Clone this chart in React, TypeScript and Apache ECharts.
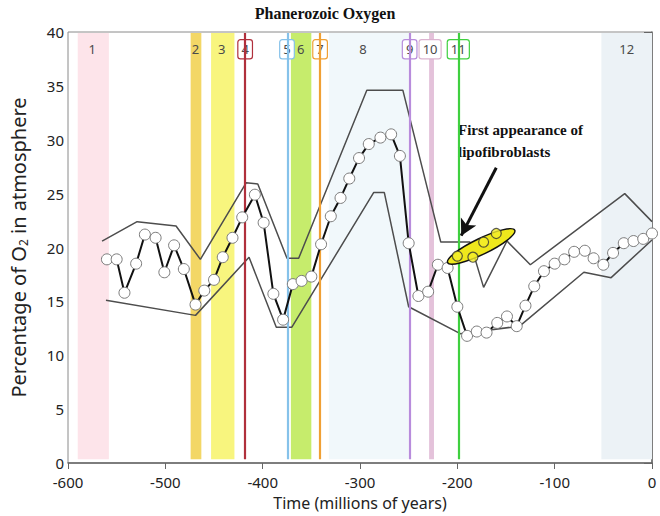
import React, { useEffect, useRef } from "react";
import * as echarts from "echarts";

// Main O2 curve (time in Ma, percent O2)
const timeMa = [-560,-550,-542,-530,-521,-510,-501,-491,-481,-469,-460,-450,-441,-431,-421,-408,-399,-389,-379,-369,-360,-350,-340,-330,-320,-311,-301,-291,-279,-268,-259,-250,-240,-230,-220,-210,-200,-190,-180,-170,-159,-149,-139,-130,-121,-111,-100,-90,-80,-69,-60,-50,-40,-29,-19,-9,0];
const oxygen = [18.9,18.9,15.8,18.5,21.2,20.9,17.7,20.2,18.0,14.7,16.0,17.0,19.1,20.9,22.8,24.9,22.3,15.7,13.3,16.6,16.9,17.3,20.3,22.9,24.6,26.4,28.3,29.6,30.2,30.5,28.5,20.4,15.5,15.9,18.4,18.1,14.5,11.8,12.2,12.1,13.0,13.6,12.7,14.6,16.4,17.8,18.5,18.9,19.6,19.7,19.0,18.4,19.5,20.4,20.6,20.8,21.3];

// Envelope lines
const upperX = [-565,-529,-489,-464,-417,-405,-375,-363,-293,-256,-217,-187,-173,-149,-125,-28,0];
const upperY = [20.6,22.4,22.0,18.9,26.0,25.9,19.0,19.0,34.6,34.6,20.5,20.5,16.3,20.6,18.4,25.0,22.4];
const lowerX = [-561,-469,-414,-386,-370,-286,-275,-250,-197,-136,-70,-42,0];
const lowerY = [15.1,13.7,19.1,12.6,12.6,25.1,25.1,14.5,12.0,12.7,17.7,17.2,20.7];

// Highlighted points (lipofibroblasts)
const hiX = [-200,-184,-173,-160];
const hiY = [19.2,19.1,20.5,21.3];
const ellipseEnds = [-210, 18.6, -141, 21.6];
const arrowFrom = [-160, 27.4];
const arrowTo = [-196, 21.1];

// Time bands / events
const bandStart = [-590,-474,-453,-371,-332,-229,-52];
const bandEnd = [-558,-463,-429,-350,-250,-224,0];
const bandColors = ["#fde4ea","#f3d766","#f8f57e","#c6ec6c","#f1f8fb","#e4c2da","#ecf2f6"];

const eventX = [-418,-374,-341,-249,-199];
const eventColors = ["#b0303c","#86c2ea","#f0a034","#b88cdc","#3fd03f"];

const labelTexts = ["1","2","3","4","5","6","7","8","9","10","11","12"];
const labelX = [-575,-469,-442,-418,-375,-361,-341,-297,-249,-228,-199,-26];
const labelBox = ["","","","#b0303c","#86c2ea","","#f0a034","","#b88cdc","#dcb4d0","#3fd03f",""];
const labelY = 38.4;

const FONT = '"Noto Sans", "DejaVu Sans", sans-serif';

export default function App() {
  const ref = useRef<HTMLDivElement>(null);
  useEffect(() => {
    document.body.style.margin = "0";
    if (!ref.current) return;
    const chart = echarts.init(ref.current, undefined, { renderer: "svg" });

    const markAreaData = bandStart.map((s, i) => [
      { xAxis: s, yAxis: 0.35, itemStyle: { color: bandColors[i] } },
      { xAxis: bandEnd[i], yAxis: 39.9 },
    ]);
    const markLineData = eventX.map((x, i) => [
      { coord: [x, 0.35], lineStyle: { color: eventColors[i], width: 2.2, type: "solid" } },
      { coord: [x, 39.9] },
    ]);

    const option: any = {
      animation: false,
      textStyle: { fontFamily: FONT },
      grid: { left: 56, right: 8, top: 32, bottom: 51, show: true, borderColor: "#8a8a8a", borderWidth: 1 },
      xAxis: {
        type: "value",
        min: -600,
        max: 0,
        interval: 100,
        name: "Time (millions of years)",
        nameLocation: "middle",
        nameGap: 32,
        nameTextStyle: { fontSize: 16, color: "#222", fontFamily: FONT },
        axisLine: { onZero: false, lineStyle: { color: "#666", width: 1.5 } },
        axisTick: { length: 6, lineStyle: { color: "#666" } },
        axisLabel: { fontSize: 15, color: "#222", margin: 11, fontFamily: FONT },
        splitLine: { show: false },
      },
      yAxis: {
        type: "value",
        min: 0,
        max: 40,
        interval: 5,
        name: "Percentage of O{sub|2} in atmosphere",
        nameLocation: "middle",
        nameGap: 39,
        nameTextStyle: {
          fontSize: 20,
          color: "#222",
          fontFamily: FONT,
          rich: { sub: { fontSize: 12, verticalAlign: "bottom", color: "#222", padding: [10, 0, 0, 0] } },
        },
        axisLine: { lineStyle: { color: "#666", width: 1.5 } },
        axisTick: { length: 8, lineStyle: { color: "#666" } },
        axisLabel: { fontSize: 15, color: "#222", margin: 4, fontFamily: FONT },
        splitLine: { show: false },
      },
      graphic: [
        {
          type: "text",
          x: 325,
          y: 13,
          style: {
            text: "Phanerozoic Oxygen",
            align: "center",
            verticalAlign: "middle",
            font: 'bold 16px "Liberation Serif", serif',
            fill: "#111",
          },
        },
        {
          type: "text",
          x: 458,
          y: 130,
          style: {
            text: "First appearance of",
            align: "left",
            verticalAlign: "middle",
            font: 'bold 15px "Liberation Serif", serif',
            fill: "#111",
          },
        },
        {
          type: "text",
          x: 458,
          y: 152,
          style: {
            text: "lipofibroblasts",
            align: "left",
            verticalAlign: "middle",
            font: 'bold 15px "Liberation Serif", serif',
            fill: "#111",
          },
        },
      ],
      series: [
        {
          name: "bands",
          type: "line",
          data: [],
          silent: true,
          z: 1,
          markArea: { silent: true, data: markAreaData, label: { show: false } },
          markLine: { silent: true, symbol: ["none", "none"], data: markLineData, label: { show: false } },
        },
        {
          name: "labels",
          type: "custom",
          z: 3,
          silent: true,
          data: labelX.map((x) => [x, labelY]),
          renderItem: (params: any, api: any) => {
            const i = params.dataIndex;
            const p = api.coord([api.value(0), api.value(1)]);
            const box = labelBox[i];
            return {
              type: "text",
              x: p[0],
              y: p[1],
              style: {
                text: labelTexts[i],
                align: "center",
                verticalAlign: "middle",
                fill: "#4a4a4a",
                font: '13px "Noto Sans", sans-serif',
                backgroundColor: box ? "#fff" : undefined,
                borderColor: box || undefined,
                borderWidth: box ? 1.2 : 0,
                borderRadius: box ? 2 : 0,
                padding: box ? [3, 3, 2, 3] : 0,
              },
            };
          },
        },
        {
          name: "upper",
          type: "line",
          z: 4,
          symbol: "none",
          data: upperX.map((x, i) => [x, upperY[i]]),
          lineStyle: { color: "#4d4d4d", width: 1.5 },
        },
        {
          name: "lower",
          type: "line",
          z: 4,
          symbol: "none",
          data: lowerX.map((x, i) => [x, lowerY[i]]),
          lineStyle: { color: "#4d4d4d", width: 1.5 },
        },
        {
          name: "oxygen",
          type: "line",
          z: 5,
          symbol: "circle",
          symbolSize: 11,
          data: timeMa.map((x, i) => [x, oxygen[i]]),
          lineStyle: { color: "#111", width: 2 },
          itemStyle: { color: "#fff", borderColor: "#7a7a7a", borderWidth: 1 },
        },
        {
          name: "ellipse",
          type: "custom",
          z: 6,
          silent: true,
          data: [ellipseEnds],
          renderItem: (params: any, api: any) => {
            const a = api.coord([api.value(0), api.value(1)]);
            const b = api.coord([api.value(2), api.value(3)]);
            const dx = b[0] - a[0];
            const dy = b[1] - a[1];
            const rx = Math.sqrt(dx * dx + dy * dy) / 2;
            return {
              type: "ellipse",
              x: (a[0] + b[0]) / 2,
              y: (a[1] + b[1]) / 2,
              rotation: -Math.atan2(dy, dx),
              shape: { cx: 0, cy: 0, rx, ry: 8 },
              style: { fill: "#efe81c", stroke: "#111", lineWidth: 1.5 },
            };
          },
        },
        {
          name: "highlight",
          type: "scatter",
          z: 7,
          symbol: "circle",
          symbolSize: 10,
          data: hiX.map((x, i) => [x, hiY[i]]),
          itemStyle: { color: "#f4ee2a", borderColor: "#333", borderWidth: 1.2 },
          markLine: {
            silent: true,
            symbol: ["none", "arrow"],
            symbolSize: [13, 16],
            label: { show: false },
            lineStyle: { color: "#111", width: 3, type: "solid" },
            data: [[{ coord: arrowFrom }, { coord: arrowTo }]],
          },
        },
      ],
    };
    chart.setOption(option);
    return () => chart.dispose();
  }, []);
  return <div ref={ref} style={{ width: 660, height: 516 }} />;
}
